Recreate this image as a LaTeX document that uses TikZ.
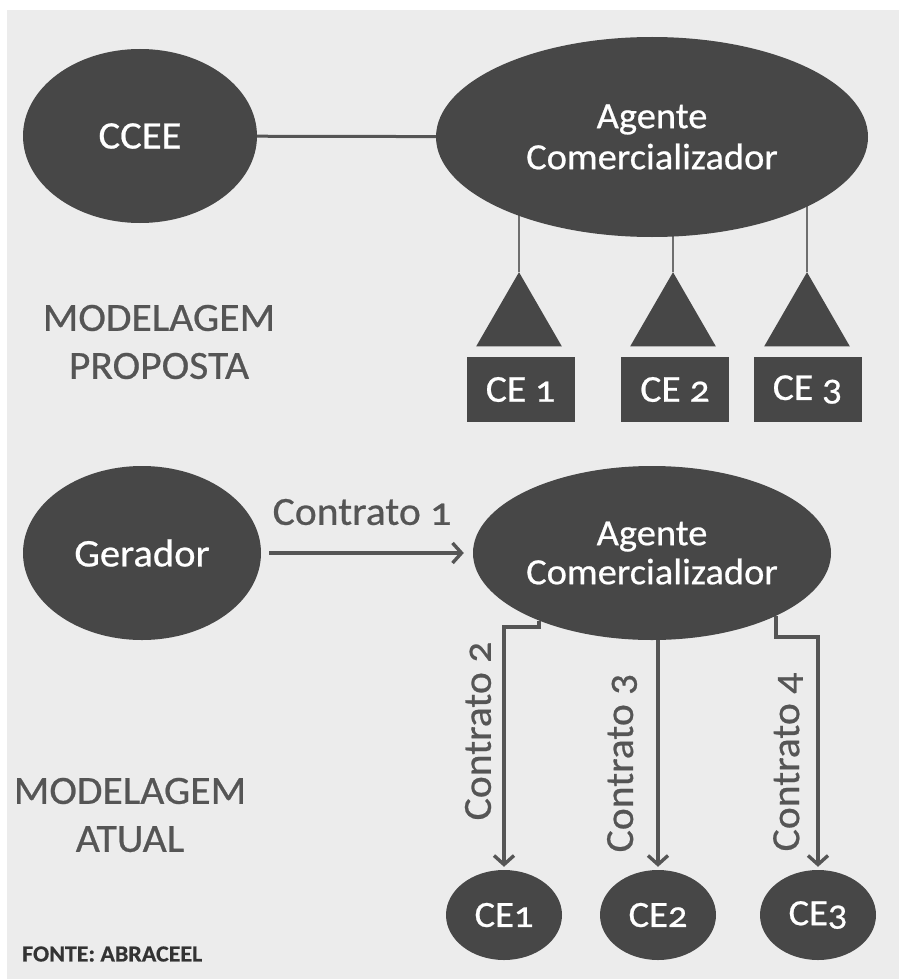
\documentclass[tikz,border=0pt]{standalone}
\usepackage{fontspec}
\setmainfont{Carlito}[Numbers=OldStyle, FakeStretch=1.04, FakeBold=0.6]
\usetikzlibrary{shapes.geometric,arrows.meta,backgrounds,calc}
\definecolor{bg}{HTML}{ECECEC}
\definecolor{shp}{HTML}{474747}
\definecolor{lbl}{HTML}{555555}
\definecolor{lne}{HTML}{555555}
\tikzset{
  blob/.style={ellipse, fill=shp, text=white, inner sep=0pt, align=center,
    font=\fontsize{37}{41}\selectfont},
  cebox/.style={rectangle, fill=shp, text=white, inner sep=0pt,
    minimum width=108pt, minimum height=65pt, font=\fontsize{38}{40}\selectfont},
  tri/.style={regular polygon, regular polygon sides=3, fill=shp, inner sep=0pt,
    minimum size=99pt},
  lab/.style={text=lbl, align=center, inner sep=0pt, font=\fontsize{40}{48}\selectfont},
  thinline/.style={draw=lne!85!white, line width=1.8pt},
  arr/.style={draw=lne, line width=3.6pt, -{Straight Barb[length=9pt,width=20pt,line width=3.4pt]}}
}
\begin{document}
\begin{tikzpicture}[x=1pt,y=-1pt]
\useasboundingbox (0,0) rectangle (899,979);

% ---------- top: modelagem proposta ----------
\node[blob, minimum width=234pt, minimum height=174pt, font=\fontsize{39}{41}\selectfont] (ccee) at (140,136) {CCEE};
\node[blob, minimum width=432pt, minimum height=200pt] (ag1) at (652,137) {Agente\\Comercializador};
\node[tri] (t1) at (519,321.7) {};
\node[tri] (t2) at (673,321.7) {};
\node[tri] (t3) at (807,321.7) {};
\node[cebox] (b1) at (520.5,389.5) {CE 1};
\node[cebox] (b2) at (675,389.5) {CE 2};
\node[cebox] (b3) at (807.5,389.5) {CE 3};
\node[lab] (mp) at (159,342) {MODELAGEM\\PROPOSTA};

\begin{scope}[on background layer]
\fill[white] (0,0) rectangle (899,979);
\fill[bg] (7,10) rectangle (899,979);
\draw[draw=lne, line width=3pt] (ccee.center) -- (ag1.center);
\draw[thinline] (t1.corner 1) -- (t1.corner 1 |- ag1.center);
\draw[thinline] (t2.corner 1) -- (t2.corner 1 |- ag1.center);
\draw[thinline] (t3.corner 1) -- (t3.corner 1 |- ag1.center);
\end{scope}

% ---------- bottom: modelagem atual ----------
\node[blob, minimum width=238pt, minimum height=174pt, font=\fontsize{39}{41}\selectfont] (ger) at (142,553) {Gerador};
\node[blob, minimum width=358pt, minimum height=174pt, font=\fontsize{37}{39}\selectfont] (ag2) at (652,553) {Agente\\Comercializador};
\node[blob, minimum width=116pt, minimum height=90pt] (ce1) at (504,915) {CE1};
\node[blob, minimum width=116pt, minimum height=90pt] (ce2) at (658,915) {CE2};
\node[blob, minimum width=116pt, minimum height=90pt] (ce3) at (818,915) {CE3};

\draw[arr, shorten <=8pt, shorten >=9pt] (ger.east) -- (ag2.west);
\node[lab] (c1) at (362,512) {Contrato 1};

\draw[arr, shorten >=3pt] (ag2.211) -- ++(0,6) -| (ce1.north);
\draw[arr, shorten >=3pt] (ag2.south -| ce2.north) -- (ce2.north);
\draw[arr, shorten >=3pt] (ag2.-27) -- ++(0,21) -| (ce3.north);

\node[lab, rotate=90] (c2) at (478,731) {Contrato 2};
\node[lab, rotate=90] (c3) at (622,763) {Contrato 3};
\node[lab, rotate=90] (c4) at (788,762) {Contrato 4};

\node[lab] (ma) at (130,815) {MODELAGEM\\ATUAL};
\node[anchor=west, inner sep=0pt, text=black!80, font=\fontsize{23}{25}\selectfont\bfseries] (fonte) at (22,954) {FONTE: ABRACEEL};
\end{tikzpicture}
\end{document}
